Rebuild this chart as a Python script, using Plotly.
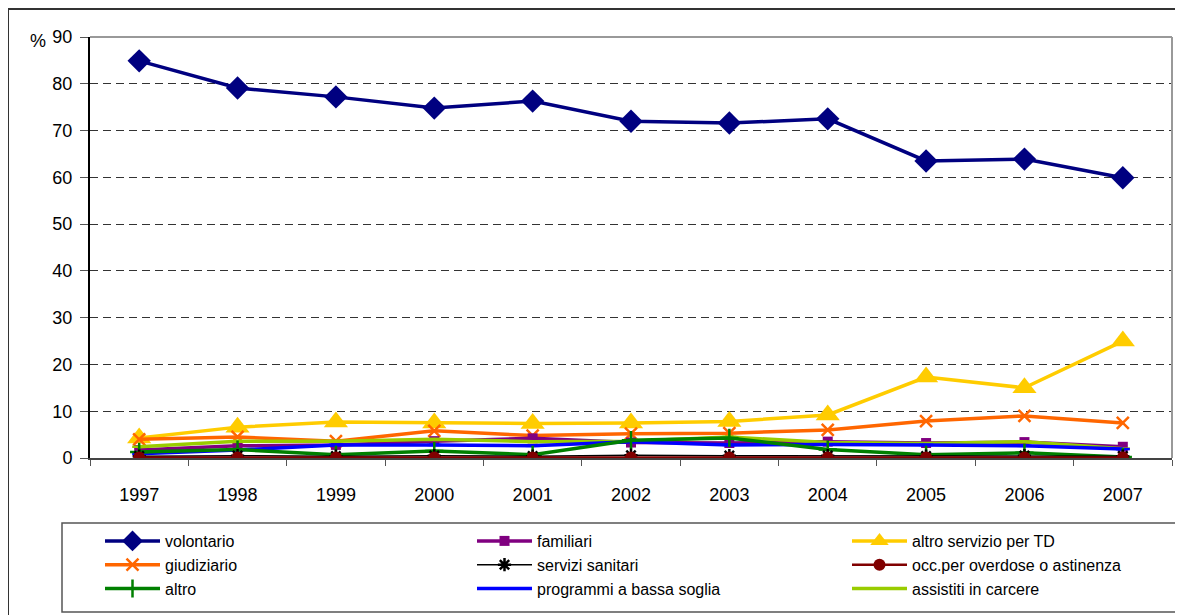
import plotly.graph_objects as go

years = ["1997", "1998", "1999", "2000", "2001", "2002", "2003", "2004", "2005", "2006", "2007"]

volontario = [84.9, 79.1, 77.2, 74.8, 76.3, 72.0, 71.6, 72.5, 63.5, 63.9, 59.9]
familiari = [1.7, 2.6, 2.8, 3.6, 4.2, 3.3, 3.2, 3.5, 3.2, 3.4, 2.4]
altro_servizio_td = [4.3, 6.6, 7.7, 7.5, 7.4, 7.5, 7.8, 9.2, 17.3, 15.0, 25.0]
giudiziario = [4.0, 4.5, 3.6, 5.8, 4.8, 5.2, 5.3, 6.0, 7.9, 9.0, 7.5]
servizi_sanitari = [0.4, 0.5, 0.4, 0.5, 0.4, 0.6, 0.5, 0.5, 0.4, 0.5, 0.4]
overdose = [0.1, 0.1, 0.1, 0.1, 0.1, 0.1, 0.1, 0.1, 0.1, 0.1, 0.1]
altro = [1.3, 1.8, 0.7, 1.5, 0.7, 3.8, 4.3, 1.8, 0.7, 1.1, 0.2]
bassa_soglia = [0.9, 1.7, 2.8, 2.8, 2.6, 3.5, 2.8, 2.9, 2.8, 2.6, 1.9]
carcere = [2.4, 3.6, 3.6, 4.0, 3.5, 3.6, 4.5, 3.3, 3.1, 3.5, 2.0]

FONT = "Liberation Sans Narrow, Liberation Sans, Arial, sans-serif"

# (name, values, color, symbol, marker size, line width, legend column, rank in column)
series = [
    ("altro servizio per TD", altro_servizio_td, "#FFCC00", "triangle-up", 21, 3.5, "legend3", 1),
    ("giudiziario", giudiziario, "#FF6600", "x-thin", 12, 3.5, "legend", 2),
    ("volontario", volontario, "#000080", "diamond", 18, 3.5, "legend", 1),
    ("familiari", familiari, "#800080", "square", 10, 3.5, "legend2", 1),
    ("assistiti in carcere", carcere, "#99CC00", "line-ew", 10, 3.5, "legend3", 3),
    ("programmi a bassa soglia", bassa_soglia, "#0000FF", "line-ew", 10, 3.5, "legend2", 3),
    ("altro", altro, "#008000", "cross-thin", 13, 3.5, "legend", 3),
    ("servizi sanitari", servizi_sanitari, "#000000", "asterisk", 11, 1.5, "legend2", 2),
    ("occ.per overdose o astinenza", overdose, "#800000", "circle", 12, 2.5, "legend3", 2),
]

fig = go.Figure()
for name, vals, color, sym, size, lw, leg, rank in series:
    open_sym = sym in ("x-thin", "cross-thin", "asterisk", "line-ew")
    fig.add_trace(go.Scatter(
        x=years, y=vals, name=name, mode="lines+markers",
        line=dict(color=color, width=lw),
        marker=dict(symbol=sym, size=size, color=color,
                    line=dict(color=color, width=2.5 if open_sym else 0)),
        legend=leg, legendrank=rank,
    ))

# page body has an 8px margin; work in screenshot coordinates
OFF = 8
W, H = 1183 - OFF, 615 - OFF
PL, PR, PT, PB = 90, 1172, 37, 458          # plot area in screenshot px
L, R, T = PL - OFF, W - (PR - OFF), PT - OFF
B = H - (PB - OFF)
pw, ph = W - L - R, H - T - B

def px(x):
    return (x - OFF - L) / pw

def py(y):
    return (H - B - (y - OFF)) / ph

shapes = [
    # outer chart frame (only top & left visible)
    dict(type="rect", xref="paper", yref="paper", x0=px(8), y0=py(660), x1=px(1220), y1=py(9),
         line=dict(color="#333333", width=2), layer="below"),
    # plot area top & right border
    dict(type="line", xref="paper", yref="paper", x0=0, x1=1, y0=1, y1=1,
         line=dict(color="#999999", width=2)),
    dict(type="line", xref="paper", yref="paper", x0=1, x1=1, y0=0, y1=1,
         line=dict(color="#999999", width=2)),
    # legend box
    dict(type="rect", xref="paper", yref="paper", x0=px(62), y0=py(612), x1=px(1178), y1=py(523),
         line=dict(color="#555555", width=1.5)),
]

def legend_col(x_left):
    return dict(
        orientation="v", x=px(x_left), y=py(524), xanchor="left", yanchor="top",
        itemwidth=55, font=dict(family=FONT, size=16, color="#000000"),
        bgcolor="rgba(0,0,0,0)", borderwidth=0, tracegroupgap=0,
        traceorder="normal",
    )

fig.update_layout(
    width=W, height=H,
    margin=dict(l=L, r=R, t=T, b=B, autoexpand=False),
    paper_bgcolor="white", plot_bgcolor="white",
    font=dict(family=FONT, size=16, color="#000000"),
    showlegend=True,
    legend=legend_col(100),
    legend2=legend_col(472),
    legend3=legend_col(847),
    xaxis=dict(
        type="category", range=[-0.5, 10.5], showgrid=False,
        showline=True, linecolor="#444444", linewidth=2,
        ticks="outside", tickson="boundaries", ticklen=6, tickcolor="#555555", tickwidth=1,
        ticklabelstandoff=19,
        tickfont=dict(family=FONT, size=18), zeroline=False,
    ),
    yaxis=dict(
        range=[0, 90], dtick=10, tick0=0,
        showgrid=True, gridcolor="#333333", gridwidth=1, griddash="8px,5px",
        showline=True, linecolor="#000000", linewidth=2,
        ticks="outside", ticklen=8, tickcolor="#555555",
        ticklabelstandoff=4,
        tickfont=dict(family=FONT, size=18), zeroline=False,
    ),
    shapes=shapes,
    annotations=[dict(text="%", xref="paper", yref="paper", x=px(28), y=py(29),
                      showarrow=False, font=dict(family=FONT, size=18))],
)

fig.write_html("out.html")
